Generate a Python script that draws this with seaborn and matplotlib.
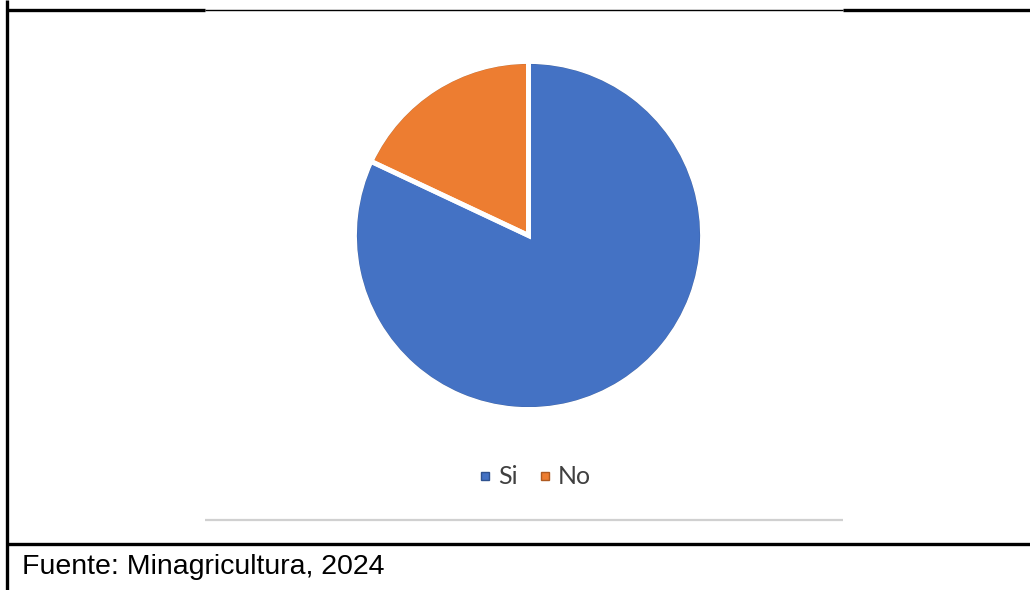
import matplotlib
matplotlib.use("Agg")
import matplotlib.pyplot as plt
import seaborn as sns
from matplotlib.lines import Line2D

labels = ["Si", "No"]
values = [82, 18]
colors = ["#4472C4", "#ED7D31"]
edge_colors = ["#2F528F", "#AE5A21"]
source_text = "Fuente: Minagricultura, 2024"

sns.set_theme(style="white")
plt.rcParams["font.family"] = ["Lato", "DejaVu Sans"]

W, H = 1030, 590
fig = plt.figure(figsize=(W / 100, H / 100), dpi=100)


def fx(x):
    return x / W


def fy(y):
    return 1 - y / H


# pie axes: centre (528, 236), radius ~174 px
cx, cy, r = 528.5, 235.5, 174
ax = fig.add_axes([fx(cx - r), fy(cy + r), 2 * r / W, 2 * r / H])
wedges, _ = ax.pie(values, colors=colors, startangle=90, counterclock=False,
                   radius=1, wedgeprops=dict(linewidth=0, zorder=1))
# thin dark rim on the arcs
rims, _ = ax.pie(values, colors=["none", "none"], startangle=90, counterclock=False,
                 radius=0.99, wedgeprops=dict(linewidth=1.3, zorder=2))
for w, ec in zip(rims, edge_colors):
    w.set_edgecolor(ec)
ax.pie(values, colors=["none", "none"], startangle=90, counterclock=False,
       radius=1.0, wedgeprops=dict(edgecolor="white", linewidth=3.5, zorder=3))
ax.set_xlim(-1.0, 1.0)
ax.set_ylim(-1.0, 1.0)
ax.set_aspect("equal")
ax.axis("off")

# legend
handles = [Line2D([0], [0], marker="s", linestyle="none", markersize=6,
                  markerfacecolor=c, markeredgecolor=e, label=l)
           for c, e, l in zip(colors, edge_colors, labels)]
fig.legend(handles=handles, loc="center", bbox_to_anchor=(fx(533), fy(477)),
           ncol=2, frameon=False, fontsize=18, handletextpad=0.1,
           columnspacing=0.7, labelcolor="#404040", handlelength=0.8)

# frame lines
def hline(x0, x1, y, lw, color="black"):
    fig.add_artist(Line2D([fx(x0), fx(x1)], [fy(y), fy(y)], color=color,
                          linewidth=lw, solid_capstyle="butt"))


hline(6, 205, 9.5, 2.4)
hline(205, 843, 9.5, 1.0)
hline(843, 1030, 9.5, 2.4)
hline(205, 843, 520, 1.6, color="#D0D0D0")
hline(6, 1030, 544, 2.4)
fig.add_artist(Line2D([fx(7), fx(7)], [0, 1], color="black", linewidth=2.4,
                      solid_capstyle="butt"))

fig.text(fx(22), fy(567), source_text, fontsize=20.5, va="center", ha="left",
         family=["Liberation Sans", "DejaVu Sans"], color="black")

fig.savefig("out.png", dpi=100, facecolor="white")
